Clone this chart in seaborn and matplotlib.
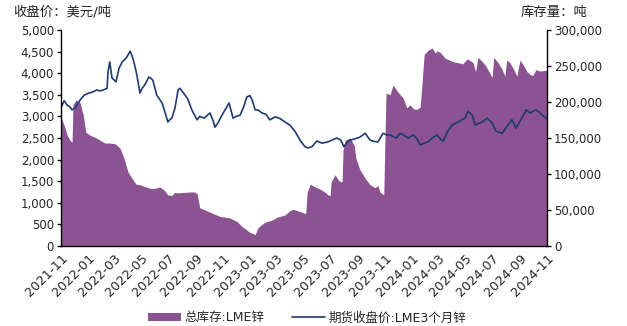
import matplotlib
matplotlib.use("Agg")
import matplotlib.pyplot as plt
import matplotlib.dates as mdates
from matplotlib.patches import Patch
from matplotlib.lines import Line2D
from matplotlib.ticker import FuncFormatter, MultipleLocator
import seaborn as sns
import pandas as pd

# LME 3-month zinc closing price (USD/t)
price_dates = [
    "2021-11-01", "2021-11-08", "2021-11-15", "2021-11-21", "2021-11-26", "2021-12-03",
    "2021-12-07", "2021-12-14", "2021-12-23", "2022-01-03", "2022-01-10", "2022-01-21",
    "2022-01-28", "2022-02-04", "2022-02-13", "2022-02-15", "2022-02-19", "2022-02-24",
    "2022-03-05", "2022-03-12", "2022-03-19", "2022-03-28", "2022-04-01", "2022-04-06",
    "2022-04-12", "2022-04-17", "2022-04-21", "2022-04-28", "2022-05-03", "2022-05-09",
    "2022-05-18", "2022-05-23", "2022-05-27", "2022-06-05", "2022-06-17", "2022-06-24",
    "2022-06-30", "2022-07-05", "2022-07-09", "2022-07-16", "2022-07-23", "2022-07-27",
    "2022-08-08", "2022-08-14", "2022-08-23", "2022-09-04", "2022-09-10", "2022-09-20",
    "2022-10-03", "2022-10-10", "2022-10-14", "2022-10-21", "2022-10-30", "2022-11-06",
    "2022-11-15", "2022-11-19", "2022-11-24", "2022-12-01", "2022-12-10", "2022-12-19",
    "2022-12-25", "2023-01-01", "2023-01-06", "2023-01-13", "2023-01-19", "2023-01-28",
    "2023-02-06", "2023-02-15", "2023-02-27", "2023-03-10", "2023-03-21", "2023-04-01",
    "2023-04-13", "2023-04-24", "2023-05-05", "2023-05-12", "2023-05-21", "2023-06-01",
    "2023-06-13", "2023-06-26", "2023-07-05", "2023-07-16", "2023-07-25", "2023-08-01",
    "2023-08-08", "2023-08-15", "2023-08-26", "2023-09-06", "2023-09-18", "2023-09-29",
    "2023-10-08", "2023-10-17", "2023-10-28", "2023-11-06", "2023-11-13", "2023-11-27",
    "2023-12-06", "2023-12-15", "2023-12-24", "2024-01-04", "2024-01-13", "2024-01-20",
    "2024-01-29", "2024-02-07", "2024-02-16", "2024-02-27", "2024-03-05", "2024-03-12",
    "2024-03-21", "2024-04-01", "2024-04-14", "2024-04-30", "2024-05-07", "2024-05-16",
    "2024-05-23", "2024-06-03", "2024-06-12", "2024-06-19", "2024-06-30", "2024-07-09",
    "2024-07-23", "2024-07-29", "2024-08-05", "2024-08-14", "2024-08-23", "2024-09-03",
    "2024-09-15", "2024-09-24", "2024-09-30", "2024-10-07", "2024-10-14", "2024-10-21",
    "2024-10-28", "2024-11-01",
]
price_values = [
    3200, 3360, 3260, 3220, 3150, 3200,
    3260, 3380, 3490, 3540, 3560, 3610,
    3590, 3610, 3650, 4030, 4260, 3890,
    3800, 4120, 4260, 4350, 4420, 4510,
    4350, 4150, 3960, 3540, 3650, 3730,
    3910, 3880, 3840, 3490, 3310, 3080,
    2870, 2930, 2960, 3190, 3610, 3650,
    3490, 3400, 3150, 2920, 3000, 2960,
    3080, 2900, 2750, 2850, 3030, 3150,
    3310, 3150, 2960, 3000, 3030, 3250,
    3450, 3480, 3380, 3150, 3150, 3080,
    3050, 2920, 2990, 2950, 2870, 2800,
    2650, 2450, 2300, 2270, 2300, 2430,
    2380, 2410, 2450, 2500, 2450, 2300,
    2400, 2450, 2480, 2520, 2610, 2450,
    2420, 2410, 2610, 2570, 2570, 2500,
    2610, 2560, 2500, 2570, 2480, 2340,
    2380, 2410, 2500, 2570, 2480, 2430,
    2640, 2800, 2870, 2960, 3120, 3030,
    2800, 2850, 2900, 2960, 2850, 2660,
    2610, 2700, 2800, 2920, 2730, 2920,
    3150, 3080, 3120, 3150, 3100, 3030,
    2980, 2940,
]

# LME zinc total stocks (tonnes)
stock_dates = [
    "2021-11-01", "2021-11-08", "2021-11-15", "2021-11-21", "2021-11-26", "2021-11-28",
    "2021-12-05", "2021-12-14", "2021-12-21", "2021-12-27", "2022-01-05", "2022-01-17",
    "2022-01-28", "2022-02-08", "2022-02-19", "2022-03-03", "2022-03-14", "2022-03-23",
    "2022-04-01", "2022-04-10", "2022-04-19", "2022-04-28", "2022-05-12", "2022-05-21",
    "2022-06-01", "2022-06-12", "2022-06-21", "2022-06-30", "2022-07-09", "2022-07-14",
    "2022-07-27", "2022-08-19", "2022-08-30", "2022-09-04", "2022-09-10", "2022-09-22",
    "2022-10-10", "2022-10-26", "2022-11-17", "2022-12-03", "2022-12-14", "2022-12-21",
    "2023-01-01", "2023-01-13", "2023-01-19", "2023-01-26", "2023-02-04", "2023-02-20",
    "2023-03-03", "2023-03-21", "2023-04-01", "2023-04-08", "2023-04-24", "2023-05-05",
    "2023-05-07", "2023-05-10", "2023-05-17", "2023-05-28", "2023-06-08", "2023-06-19",
    "2023-06-26", "2023-07-01", "2023-07-03", "2023-07-12", "2023-07-19", "2023-07-25",
    "2023-07-28", "2023-07-30", "2023-08-04", "2023-08-15", "2023-08-24", "2023-08-28",
    "2023-09-06", "2023-09-18", "2023-09-29", "2023-10-10", "2023-10-17", "2023-10-21",
    "2023-10-30", "2023-11-01", "2023-11-04", "2023-11-06", "2023-11-13", "2023-11-20",
    "2023-11-27", "2023-12-06", "2023-12-12", "2023-12-21", "2023-12-28", "2024-01-06",
    "2024-01-13", "2024-01-20", "2024-01-24", "2024-01-29", "2024-02-07", "2024-02-16",
    "2024-02-23", "2024-02-27", "2024-03-05", "2024-03-16", "2024-04-03", "2024-04-19",
    "2024-04-25", "2024-05-05", "2024-05-18", "2024-05-24", "2024-05-29", "2024-06-07",
    "2024-06-16", "2024-06-25", "2024-06-30", "2024-07-04", "2024-07-13", "2024-07-22",
    "2024-07-29", "2024-08-02", "2024-08-09", "2024-08-18", "2024-08-25", "2024-09-01",
    "2024-09-08", "2024-09-17", "2024-09-24", "2024-09-30", "2024-10-07", "2024-10-16",
    "2024-11-01",
]
stock_values = [
    179000, 168000, 154000, 147000, 144000, 196000,
    203000, 199000, 182000, 158000, 154000, 151000,
    147000, 143000, 143000, 142000, 136000, 122000,
    103000, 94000, 86000, 85000, 82000, 80000,
    80000, 82000, 78000, 71000, 70000, 74000,
    74000, 75000, 75000, 72000, 53000, 50000,
    45000, 41000, 39000, 34000, 27000, 24000,
    19000, 16000, 25000, 29000, 33000, 36000,
    40000, 43000, 49000, 51000, 48000, 45000,
    46000, 74000, 86000, 82000, 79000, 75000,
    71000, 70000, 89000, 99000, 92000, 89000,
    90000, 133000, 147000, 150000, 140000, 122000,
    106000, 94000, 85000, 81000, 84000, 75000,
    71000, 133000, 212000, 212000, 210000, 224000,
    217000, 210000, 206000, 192000, 196000, 190000,
    190000, 193000, 225000, 266000, 272000, 275000,
    268000, 271000, 269000, 261000, 256000, 254000,
    253000, 260000, 255000, 242000, 262000, 257000,
    250000, 240000, 234000, 262000, 255000, 246000,
    236000, 258000, 255000, 245000, 236000, 258000,
    252000, 242000, 238000, 237000, 245000, 243000,
    244000,
]

price_df = pd.DataFrame({"date": pd.to_datetime(price_dates), "price": price_values})
stock_df = pd.DataFrame({"date": pd.to_datetime(stock_dates), "stock": stock_values})

sns.set_style("white")
plt.rcParams["font.family"] = ["DejaVu Sans", "Noto Sans CJK SC"]

area_color = "#8B5391"
line_color = "#1F3A6E"

fig = plt.figure(figsize=(6.27, 3.26), dpi=100)
ax = fig.add_axes([61 / 627, 1 - 246 / 326, (547 - 61) / 627, (246 - 30) / 326])
ax2 = ax.twinx()

# stock area on the right axis, drawn underneath
ax2.fill_between(stock_df["date"], 0, stock_df["stock"], color=area_color, linewidth=0)
ax2.set_ylim(0, 300000)
ax2.yaxis.set_major_locator(MultipleLocator(50000))
ax2.yaxis.set_major_formatter(FuncFormatter(lambda v, p: f"{int(v):,}"))

# price line on the left axis, drawn on top
sns.lineplot(data=price_df, x="date", y="price", ax=ax, color=line_color, linewidth=1.2)
ax.set_zorder(ax2.get_zorder() + 1)
ax.patch.set_visible(False)
ax.set_ylim(0, 5000)
ax.yaxis.set_major_locator(MultipleLocator(500))
ax.yaxis.set_major_formatter(FuncFormatter(lambda v, p: f"{int(v):,}"))
ax.set_xlim(pd.Timestamp("2021-11-01"), pd.Timestamp("2024-11-01"))
ax.xaxis.set_major_locator(mdates.MonthLocator(bymonth=[1, 3, 5, 7, 9, 11]))
ax.xaxis.set_major_formatter(mdates.DateFormatter("%Y-%m"))
ax.set_xlabel("")
ax.set_ylabel("")
ax2.set_ylabel("")

for a in (ax, ax2):
    for s in a.spines.values():
        s.set_color("black")
        s.set_linewidth(1.0)
    a.spines["top"].set_visible(False)
ax.spines["right"].set_visible(False)
ax2.spines["left"].set_visible(False)
ax2.spines["bottom"].set_visible(False)

ax.tick_params(axis="both", direction="out", length=3, width=1, color="black",
               labelsize=8.5, pad=2)
ax.tick_params(axis="x", labelsize=9.3, pad=1)
ax2.tick_params(axis="y", direction="out", length=3, width=1, color="black",
                labelsize=8.5, pad=2)
for lbl in ax.get_xticklabels():
    lbl.set_rotation(45)
    lbl.set_ha("right")
    lbl.set_rotation_mode("anchor")

fig.text(13 / 627, 1 - 12 / 326, "收盘价：美元/吨", fontsize=9.6, va="center", ha="left",
         color="#222222")
fig.text(587 / 627, 1 - 12 / 326, "库存量：吨", fontsize=9.6, va="center", ha="right",
         color="#222222")

handles = [Patch(facecolor=area_color, edgecolor="none", label="总库存:LME锌"),
           Line2D([0], [0], color=line_color, linewidth=1.2, label="期货收盘价:LME3个月锌")]
fig.legend(handles=handles, loc="center", bbox_to_anchor=(0.49, 0.025), ncol=2,
           frameon=False, fontsize=9, handlelength=2.6, handleheight=0.6,
           columnspacing=2.2, handletextpad=0.3)

fig.savefig("out.png", dpi=100)
